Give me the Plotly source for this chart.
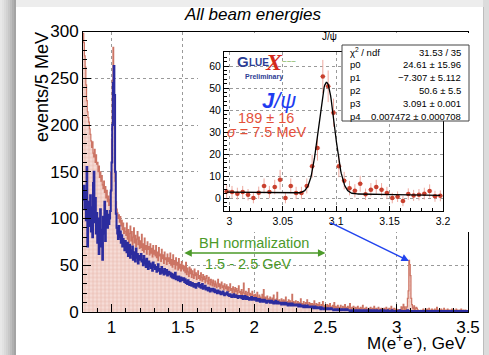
import numpy as np
import plotly.graph_objects as go

W, H = 489, 355
def px(x): return x / W
def py(y): return 1 - y / H

# ---------------- data ----------------
bin_lo = 0.8          # GeV, first bin edge
bin_w = 0.005         # 5 MeV bins

red_counts = [
    298, 288, 274, 262, 243, 226, 214, 208, 203, 196, 190, 183, 176, 182, 170, 166, 174, 160, 168, 158,
    160, 150, 156, 144, 150, 140, 146, 136, 132, 140, 128, 134, 122, 130, 118, 124, 114, 120, 128, 150,
    185, 248, 283, 262, 196, 140, 118, 110, 106, 100, 104, 96, 102, 92, 98, 88, 95, 84, 90, 86,
    82, 95, 78, 88, 74, 84, 92, 76, 86, 72, 80, 90, 74, 82, 70, 78, 86, 72, 80, 68,
    76, 69, 83, 66, 73, 64, 79, 67, 71, 62, 75, 67, 70, 61, 73, 63, 68, 59, 71, 62,
    66, 60, 71, 58, 64, 55, 69, 60, 62, 54, 67, 57, 61, 52, 64, 56, 58, 51, 62, 54,
    58, 52, 63, 50, 56, 48, 61, 51, 55, 46, 58, 50, 53, 45, 57, 47, 51, 44, 54, 46,
    50, 44, 49, 42, 53, 40, 47, 43, 38, 48, 41, 46, 37, 44, 40, 36, 46, 39, 42, 35,
    40, 44, 36, 39, 34, 42, 37, 33, 40, 35, 38, 31, 36, 39, 33, 30, 37, 34, 29, 35,
    32, 28, 34, 30, 27, 33, 29, 26, 31, 35, 27, 30, 25, 29, 32, 26, 28, 24, 30, 27,
    25, 29, 23, 27, 22, 26, 30, 23, 25, 21, 27, 24, 20, 26, 22, 25, 19, 23, 28, 21,
    22, 19, 24, 18, 21, 31, 20, 17, 22, 19, 16, 21, 25, 18, 20, 15, 19, 22, 17, 18,
    16, 19, 14, 17, 21, 15, 13, 18, 16, 12, 15, 19, 14, 24, 13, 16, 12, 15, 17, 13,
    14, 11, 16, 13, 10, 15, 12, 18, 11, 13, 10, 14, 21, 12, 9, 13, 11, 10, 14, 12,
    10, 13, 9, 12, 16, 10, 8, 11, 13, 9, 12, 8, 10, 19, 9, 11, 8, 10, 12, 9,
    8, 11, 9, 7, 10, 14, 8, 9, 7, 11, 8, 6, 10, 9, 13, 7, 8, 10, 6, 9,
    7, 9, 6, 8, 12, 7, 6, 9, 5, 8, 7, 10, 6, 5, 8, 7, 11, 6, 5, 7,
    6, 5, 8, 4, 7, 6, 9, 5, 4, 6, 7, 5, 10, 4, 6, 5, 3, 7, 5, 4,
    5, 7, 4, 3, 6, 5, 4, 8, 3, 5, 4, 6, 3, 5, 9, 4, 3, 5, 4, 6,
    4, 3, 5, 2, 4, 6, 3, 4, 2, 5, 3, 4, 7, 3, 2, 4, 3, 5, 2, 3,
    3, 4, 2, 5, 3, 2, 4, 3, 6, 2, 3, 4, 2, 3, 5, 2, 3, 2, 4, 3,
    2, 3, 4, 2, 3, 5, 2, 3, 2, 4, 3, 2, 6, 3, 2, 3, 4, 2, 3, 3,
    2.7, 2.0, 2.7, 1.5, 0, 2.4, 5.5, 2.7, 5.0, 8.3, 0, 5.5, 2.3, 2.3, 5.5, 14.5, 22.7, 55.3, 50.8, 38.8,
    14.5, 7.9, 4.5, 3.3, 6.5, 1.7, 3.8, 5.0, 3.8, 2.3, 0, 0.6, 0, 1.8, 1.2, 1.5, 2.0, 3.2, 0.8, 1.0,
    2, 1, 3, 2, 1, 4, 2, 1, 2, 3, 1, 2, 1, 3, 2, 1, 5, 2, 1, 2,
    1, 2, 3, 1, 2, 1, 4, 2, 1, 2, 1, 3, 1, 2, 1, 2, 1, 3, 2, 1,
    2, 1, 1, 3, 1, 2, 1, 1, 2, 1, 3, 1, 1, 2, 1, 1, 2, 1, 1, 1,
]

blue_counts = [
    120, 135, 110, 128, 98, 155, 70, 118, 104, 92, 125, 86, 112, 80, 138, 150, 96, 122, 84, 106,
    74, 100, 62, 95, 110, 70, 88, 56, 102, 84, 118, 76, 96, 108, 90, 104, 94, 100, 108, 130,
    160, 200, 245, 263, 232, 150, 105, 90, 84, 78, 92, 80, 86, 74, 82, 70, 78, 72, 66, 76,
    70, 64, 74, 60, 68, 72, 58, 66, 62, 70, 56, 64, 60, 54, 68, 58, 62, 52, 60, 56,
    58, 62, 54, 56, 50, 60, 52, 55, 48, 57, 51, 46, 54, 49, 52, 47, 50, 44, 53, 48,
    50, 46, 48, 43, 47, 51, 44, 46, 41, 45, 48, 42, 44, 40, 46, 43, 41, 45, 39, 42,
    43, 40, 42, 38, 41, 37, 40, 36, 39, 42, 35, 38, 36, 34, 38, 35, 33, 37, 34, 36,
    34, 36, 32, 35, 31, 33, 30, 34, 31, 29, 32, 30, 28, 31, 29, 27, 30, 28, 26, 29,
    30, 28, 31, 27, 29, 26, 28, 30, 25, 27, 26, 28, 24, 26, 25, 23, 26, 24, 22, 25,
    24, 23, 25, 22, 24, 21, 23, 22, 20, 23, 21, 22, 20, 19, 21, 20, 22, 19, 18, 20,
    20, 19, 21, 18, 19, 17, 19, 18, 16, 18, 17, 19, 16, 17, 18, 16, 17, 15, 16, 17,
    17, 16, 15, 17, 14, 16, 15, 17, 14, 15, 16, 14, 15, 13, 15, 14, 16, 13, 14, 15,
    14, 13, 15, 12, 14, 13, 12, 14, 11, 13, 12, 13, 11, 12, 13, 11, 12, 10, 12, 11,
    11, 12, 10, 11, 12, 10, 11, 9, 11, 10, 12, 9, 10, 11, 9, 10, 9, 10, 8, 10,
    9, 10, 8, 9, 10, 8, 9, 7, 9, 8, 9, 7, 8, 9, 7, 8, 7, 8, 7, 8,
    7, 8, 6, 7, 8, 6, 7, 6, 7, 5, 6, 7, 5, 6, 7, 5, 6, 5, 6, 5,
    6, 5, 6, 4, 5, 6, 4, 5, 4, 5, 4, 5, 4, 3, 5, 4, 4, 3, 4, 4,
    4, 3, 4, 4, 3, 4, 3, 3, 4, 3, 3, 2, 3, 3, 2, 3, 3, 2, 3, 2,
    3, 2, 3, 2, 3, 2, 2, 3, 2, 2, 3, 2, 2, 2, 1, 2, 2, 1, 2, 2,
    2, 1, 2, 2, 1, 2, 1, 2, 1, 1, 2, 1, 1, 2, 1, 1, 1, 2, 1, 1,
    1, 2, 1, 1, 2, 1, 1, 1, 2, 1, 1, 1, 2, 1, 1, 1, 1, 2, 1, 1,
    1, 1, 2, 1, 1, 1, 1, 2, 1, 1, 1, 1, 1, 2, 1, 1, 1, 1, 1, 1,
    1, 1, 1, 1, 2, 1, 1, 1, 1, 1, 1, 1, 1, 1, 1, 2, 1, 1, 1, 1,
    1, 0.8, 1, 1.2, 1, 1, 0.8, 1, 1, 1.2, 1, 1, 0.8, 1, 1, 1, 1.2, 1, 0.8, 1,
    1, 1, 0.8, 1, 1.2, 1, 1, 0.8, 1, 1, 1, 1.2, 1, 0.8, 1, 1, 1, 0.8, 1, 1,
    0.8, 1, 1, 1.2, 1, 0.8, 1, 1, 1, 0.8, 1, 1.2, 1, 1, 0.8, 1, 1, 1, 0.8, 1,
    1, 0.8, 1, 1, 0.8, 1, 1, 1, 0.8, 1, 1, 0.8, 1, 1, 1, 0.8, 1, 1, 0.8, 1,
]

# J/psi inset (5 MeV bins starting at 2.995 GeV)
jpsi_lo = 2.995
jpsi_vals = [3.0, 2.7, 2.0, 2.7, 1.5, 0.0, 2.4, 5.5, 2.7, 5.0, 8.3, 0.0, 5.5, 2.3, 2.3, 5.5,
             14.5, 22.7, 55.3, 50.8, 38.8, 14.5, 7.9, 4.5, 3.3, 6.5, 1.7, 3.8, 5.0, 3.8, 2.3,
             0.0, 0.6, -1.4, 1.8, 1.2, 1.5, 2.0, 3.2, 0.8, 1.0]
jpsi_errs = [3.0, 2.8, 2.7, 2.8, 2.6, 2.4, 2.8, 3.4, 2.8, 3.3, 4.5, 2.4, 3.4, 2.8, 2.8, 3.4,
             5.2, 5.7, 7.5, 7.2, 6.4, 5.0, 4.0, 3.3, 3.0, 3.6, 2.6, 3.0, 3.3, 3.0, 2.8,
             2.4, 2.4, 2.3, 2.6, 2.5, 2.6, 2.7, 3.0, 2.5, 2.5]

# fit parameters (pol1 + gaus) from stat box
p0, p1, p2, p3, p4 = 24.61, -7.307, 50.6, 3.091, 0.007472
stat_rows = [("χ<sup>2</sup> / ndf", "31.53 / 35"),
             ("p0", "24.61 ± 15.96"),
             ("p1", "−7.307 ± 5.112"),
             ("p2", "50.6 ± 5.5"),
             ("p3", "3.091 ± 0.001"),
             ("p4", "0.007472 ± 0.000708")]

# ---------------- build ----------------
FONT = "Liberation Sans, Arial, Helvetica, sans-serif"
RED_LINE = "#cc7464"
BLUE_LINE = "#2c2c9e"

edges = bin_lo + bin_w * np.arange(len(red_counts) + 1)
red_y = list(red_counts) + [red_counts[-1]]
blue_y = list(blue_counts) + [blue_counts[-1]]

fig = go.Figure()

# main histogram (subplot xy)
fig.add_trace(go.Scatter(
    x=edges, y=red_y, mode="lines", line=dict(color=RED_LINE, width=1.2, shape="hv"),
    fill="tozeroy", fillcolor="#f4d6d0",
    fillpattern=dict(shape="+", size=4, solidity=0.25, fgcolor="#e3aea5", bgcolor="#f6dcd6"),
    xaxis="x", yaxis="y", hoverinfo="skip", showlegend=False))

fig.add_trace(go.Scatter(
    x=edges, y=blue_y, mode="lines", line=dict(color=BLUE_LINE, width=2, shape="hv"),
    xaxis="x", yaxis="y", hoverinfo="skip", showlegend=False))

# white pad subplot (x2y2) that covers the main plot behind the inset
fig.add_trace(go.Scatter(x=[0.5], y=[0.5], mode="markers", marker=dict(opacity=0),
                         xaxis="x2", yaxis="y2", hoverinfo="skip", showlegend=False))

# inset (subplot x3y3)
jx = jpsi_lo + 0.0025 + 0.005 * np.arange(len(jpsi_vals))
fig.add_trace(go.Scatter(
    x=jx, y=jpsi_vals, mode="markers",
    marker=dict(color="#c8402e", size=4.5, symbol="circle"),
    error_y=dict(type="data", array=jpsi_errs, color="#eeaaa0", thickness=1, width=0),
    error_x=dict(type="constant", value=0.0025, color="#eeaaa0", thickness=1, width=0),
    xaxis="x3", yaxis="y3", hoverinfo="skip", showlegend=False))

fx = np.linspace(jx[0], jx[-1], 400)
fy = p0 + p1 * fx + p2 * np.exp(-0.5 * ((fx - p3) / p4) ** 2)
fig.add_trace(go.Scatter(
    x=fx, y=fy, mode="lines", line=dict(color="black", width=1.3),
    xaxis="x3", yaxis="y3", hoverinfo="skip", showlegend=False))

axis_common = dict(showline=True, linecolor="black", linewidth=1, mirror=True, automargin=False,
                   ticks="inside", tickcolor="black", tickwidth=1, zeroline=False,
                   showgrid=True, gridcolor="#9a9a9a", griddash="dot", gridwidth=1)

fig.update_layout(
    template="none",
    width=W, height=H, margin=dict(l=0, r=0, t=0, b=0, pad=0), autosize=False,
    paper_bgcolor="white", plot_bgcolor="white", showlegend=False,
    font=dict(family=FONT, color="black"),
    xaxis=dict(domain=[px(83), px(468)], range=[0.8, 3.5], dtick=0.5, tick0=0,
               ticklen=8, tickfont=dict(size=17), anchor="y",
               minor=dict(dtick=0.1, tick0=0, ticklen=4, ticks="inside", tickcolor="black", showgrid=False),
               **axis_common),
    yaxis=dict(domain=[py(312), py(31.5)], range=[0, 300], dtick=50, tick0=0,
               ticklen=8, tickfont=dict(size=17), anchor="x",
               minor=dict(dtick=10, tick0=0, ticklen=4, ticks="inside", tickcolor="black", showgrid=False),
               **axis_common),
    xaxis2=dict(domain=[px(198), px(471)], range=[0, 1], visible=False, anchor="y2",
                showgrid=False, zeroline=False, automargin=False),
    yaxis2=dict(domain=[py(232), py(33)], range=[0, 1], visible=False, anchor="x2",
                showgrid=False, zeroline=False, automargin=False),
    xaxis3=dict(domain=[px(224), px(443)], range=[2.995, 3.2], dtick=0.05, tick0=3.0,
                ticklen=5, tickfont=dict(size=10.5), anchor="y3",
                minor=dict(dtick=0.01, tick0=3.0, ticklen=3, ticks="inside", tickcolor="black", showgrid=False),
                **axis_common),
    yaxis3=dict(domain=[py(211), py(52)], range=[-5.9, 66.4], dtick=10, tick0=0,
                ticklen=5, tickfont=dict(size=10.5), anchor="x3",
                minor=dict(dtick=2, tick0=0, ticklen=3, ticks="inside", tickcolor="black", showgrid=False),
                **axis_common),
)

shapes = []
# outer grey frame / shadow
shapes.append(dict(type="rect", xref="paper", yref="paper", x0=0, x1=1, y0=py(7), y1=1,
                   fillcolor="#ededed", line=dict(width=0), layer="below"))
greys = ["#e8e8e8", "#e2e2e2", "#dadada", "#d2d2d2", "#c8c8c8", "#bdbdbd", "#b0b0b0", "#a4a4a4"]
for i, g in enumerate(greys):
    shapes.append(dict(type="rect", xref="paper", yref="paper", x0=px(2 * i), x1=px(2 * i + 2),
                       y0=0, y1=1, fillcolor=g, line=dict(width=0), layer="below"))
shapes.append(dict(type="rect", xref="paper", yref="paper", x0=px(483), x1=1, y0=0, y1=1,
                   fillcolor="#dcdcdc", line=dict(width=0), layer="below"))
shapes.append(dict(type="line", xref="paper", yref="paper", x0=px(483.5), x1=px(483.5), y0=0, y1=py(7),
                   line=dict(color="#bdbdbd", width=1), layer="below"))
# stat box
shapes.append(dict(type="rect", xref="paper", yref="paper", x0=px(342), x1=px(469), y0=py(121), y1=py(45),
                   fillcolor="white", line=dict(color="#444", width=1), layer="above"))
fig.update_layout(shapes=shapes)

ann = []
def text(x, y, s, size, color="black", xanchor="center", **kw):
    ann.append(dict(x=px(x), y=py(y), xref="paper", yref="paper", text=s, showarrow=False,
                    xanchor=xanchor, yanchor="middle", font=dict(size=size, color=color,
                    family=kw.pop("family", FONT)), **kw))

text(253, 15, "<i>All beam energies</i>", 17)
text(42, 87, "events/5 MeV", 18, textangle=-90)
text(468, 342, "M(e<sup>+</sup>e<sup>-</sup>), GeV", 17, xanchor="right")
text(329, 37, "J/ψ", 10)

# GlueX logo
text(242.5, 62, "<b>G</b>", 15, color="#2b3c94")
text(247, 63, "<b>LUE</b>", 10, color="#2b3c94", xanchor="left")
text(274, 62, "<i><b>X</b></i>", 24, color="#d42a1a", family="Liberation Serif, serif")
text(289, 61, "~~~", 8, color="#5aa02c")
text(264, 77, "<b>Preliminary</b>", 7, color="#2b3c94")

text(279, 100, "<i><b>J</b>/ψ</i>", 22, color="#1f3cf0")
text(266, 118, "189 ± 16", 14.5, color="#e4503a")
text(267, 132, "<i>σ</i> = 7.5 MeV", 14.5, color="#e4503a")

# stat box rows
for i, (lab, val) in enumerate(stat_rows):
    yy = 52 + i * 12.8
    text(348, yy, lab, 9.5, xanchor="left")
    text(463, yy, val, 9.5, xanchor="right")

# BH normalization
text(254, 243, "BH normalization", 14.5, color="#4c9a2a")
text(249, 264, "1.5 - 2.5 GeV", 14.5, color="#4c9a2a")

ann.append(dict(x=2.5, y=63.2, ax=1.5, ay=63.2, xref="x", yref="y", axref="x", ayref="y",
                text="", showarrow=True, arrowhead=2, arrowside="end+start", arrowsize=1,
                arrowwidth=1.5, arrowcolor="#4c9a2a"))
ann.append(dict(x=3.086, y=54.6, ax=2.525, ay=96.4, xref="x", yref="y", axref="x", ayref="y",
                text="", showarrow=True, arrowhead=2, arrowsize=1, arrowwidth=1.5, arrowcolor="#2244ee"))

fig.update_layout(annotations=ann)

fig.write_html("out.html")
